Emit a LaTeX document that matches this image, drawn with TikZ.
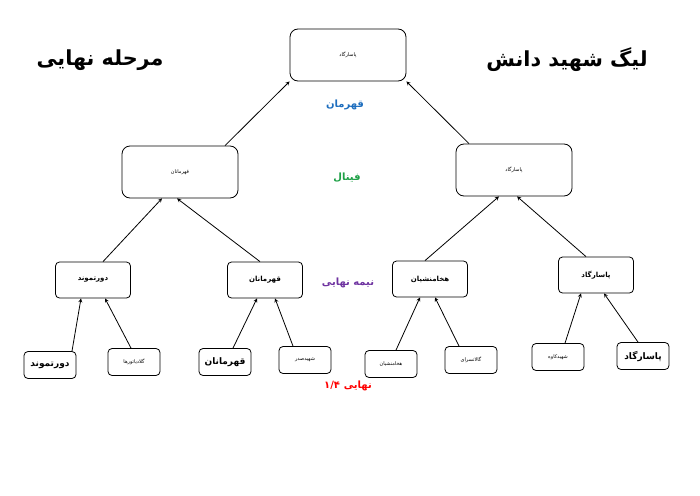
\documentclass[tikz,border=0pt]{standalone}
\usepackage{fontspec}
\newfontfamily\arabicfont[Script=Arabic]{DejaVu Sans}
\TeXXeTstate=1
\newcommand{\fa}[1]{{\arabicfont\beginR #1\endR}}
\tikzset{
    bigbox/.style={draw, thick, rounded corners=8pt, minimum width=116pt, minimum height=52pt, font=\tiny},
    semibox/.style={draw, thick, rounded corners=4pt, minimum width=75pt, minimum height=36pt, font=\scriptsize\bfseries},
    leafbox/.style={draw, thick, rounded corners=4pt, minimum width=52pt, minimum height=27pt, font=\tiny},
    stagelabel/.style={font=\normalsize\bfseries},
    titlelabel/.style={font=\huge\bfseries}
}

\begin{document}
\begin{tikzpicture}[x=1pt, y=-1pt, >=stealth, thick]
    \useasboundingbox (0,0) rectangle (700,495);

    % titles
    \node[titlelabel] (league) at (567,60) {\fa{لیگ شهید دانش}};
    \node[titlelabel] (stage) at (100,60) {\fa{مرحله نهایی}};

    % champion and final
    \node[bigbox] (champ) at (348,55) {\fa{پاسارگاد}};
    \node[bigbox] (finL) at (180,172) {\fa{قهرمانان}};
    \node[bigbox] (finR) at (514,170) {\fa{پاسارگاد}};

    % semi finals
    \node[semibox] (semiA) at (93,280) {\fa{دورتموند}};
    \node[semibox] (semiB) at (265,280) {\fa{قهرمانان}};
    \node[semibox] (semiC) at (430,279) {\fa{هخامنشیان}};
    \node[semibox] (semiD) at (596,275) {\fa{پاسارگاد}};

    % quarter finals
    \node[leafbox, font=\small\bfseries] (qA) at (50,365) {\fa{دورتموند}};
    \node[leafbox] (qB) at (134,362) {\fa{گلادیاتورها}};
    \node[leafbox, font=\small\bfseries] (qC) at (225,362) {\fa{قهرمانان}};
    \node[leafbox] (qD) at (305,360) {\fa{شهیدصدر}};
    \node[leafbox] (qE) at (391,364) {\fa{هخامنشیان}};
    \node[leafbox] (qF) at (471,360) {\fa{گالاتسرای}};
    \node[leafbox] (qG) at (558,357) {\fa{شهیدکاوه}};
    \node[leafbox, font=\small\bfseries] (qH) at (643,356) {\fa{پاسارگاد}};

    % stage labels
    \node[stagelabel, text={rgb,255:red,30;green,110;blue,190}] (lblChamp) at (345,105) {\fa{قهرمان}};
    \node[stagelabel, text={rgb,255:red,30;green,160;blue,70}] (lblFinal) at (347,178) {\fa{فینال}};
    \node[stagelabel, text={rgb,255:red,110;green,50;blue,160}] (lblSemi) at (348,283) {\fa{نیمه نهایی}};
    \node[stagelabel, text=red] (lblQuarter) at (348,386) {{\arabicfont ۱/۴}\ \fa{نهایی}};

    % connectors
    \draw[->] ([xshift=45pt]finL.north) -- (champ.south west);
    \draw[->] ([xshift=-45pt]finR.north) -- (champ.south east);
    \draw[->] ([xshift=10pt]semiA.north) -- ([xshift=-18pt]finL.south);
    \draw[->] ([xshift=-5pt]semiB.north) -- ([xshift=-3pt]finL.south);
    \draw[->] ([xshift=-5pt]semiC.north) -- ([xshift=-15pt]finR.south);
    \draw[->] ([xshift=-10pt]semiD.north) -- ([xshift=3pt]finR.south);
    \draw[->] ([xshift=22pt]qA.north) -- ([xshift=-12pt]semiA.south);
    \draw[->] ([xshift=-3pt]qB.north) -- ([xshift=12pt]semiA.south);
    \draw[->] ([xshift=8pt]qC.north) -- ([xshift=-8pt]semiB.south);
    \draw[->] ([xshift=-12pt]qD.north) -- ([xshift=10pt]semiB.south);
    \draw[->] ([xshift=5pt]qE.north) -- ([xshift=-10pt]semiC.south);
    \draw[->] ([xshift=-12pt]qF.north) -- ([xshift=5pt]semiC.south);
    \draw[->] ([xshift=7pt]qG.north) -- ([xshift=-15pt]semiD.south);
    \draw[->] ([xshift=-5pt]qH.north) -- ([xshift=8pt]semiD.south);
\end{tikzpicture}
\end{document}
